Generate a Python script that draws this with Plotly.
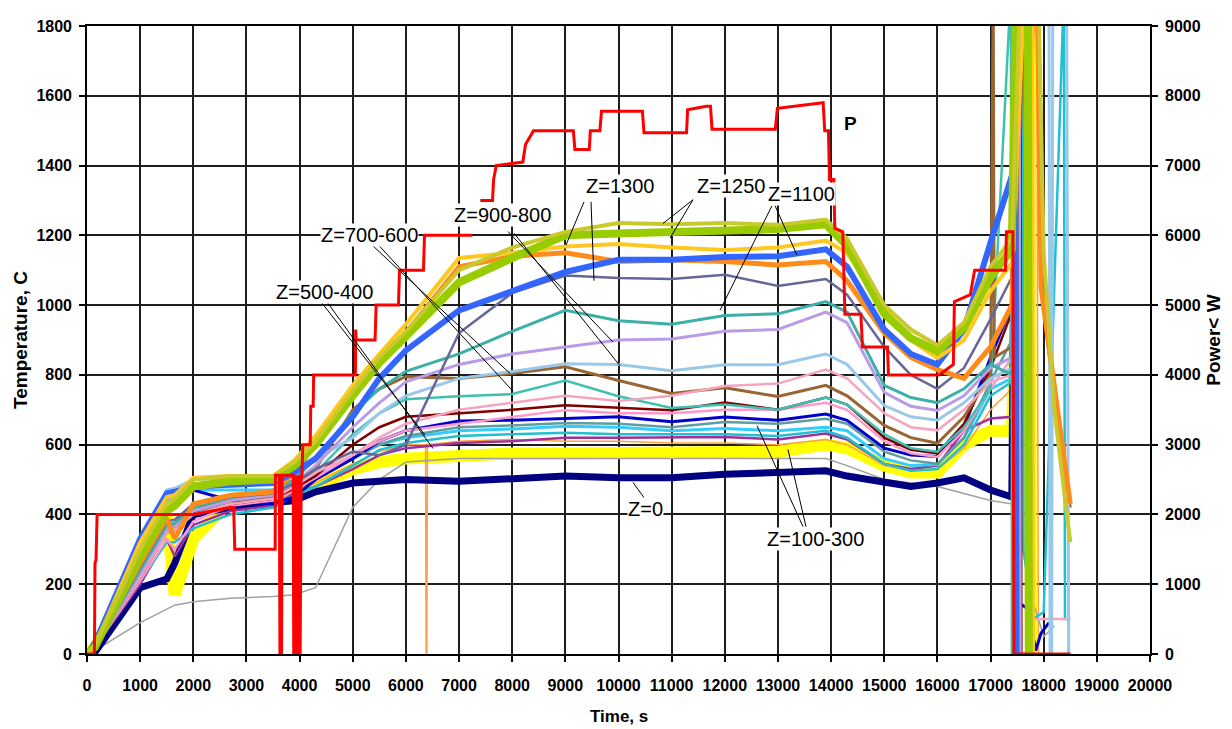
import plotly.graph_objects as go

# ---------------- DATA ----------------
GRID_T = [0, 150, 1000, 1500, 1650, 2000, 2700, 3500, 3900, 4300, 5000, 5500, 6000, 7000, 8000,
          9000, 10000, 11000, 12000, 13000, 13900, 14300, 15000, 15500, 16000, 16500, 17000, 17400]

olive_T = [0, 25, 300, 430, 445, 500, 510, 510, 550, 610, 755, 850, 925, 1100, 1165, 1210, 1235, 1232, 1235, 1230, 1245, 1190, 1000, 930, 885, 950, 1110, 1190]
green_T = [0, 20, 280, 410, 425, 480, 495, 500, 540, 600, 740, 835, 910, 1065, 1135, 1200, 1205, 1210, 1215, 1218, 1232, 1170, 975, 905, 868, 935, 1080, 1160]
gold_T = [0, 25, 320, 450, 455, 505, 510, 510, 555, 625, 770, 860, 945, 1135, 1150, 1168, 1175, 1165, 1158, 1165, 1185, 1150, 990, 900, 848, 900, 1040, 1120]
blue_T = [0, 30, 330, 460, 465, 480, 485, 490, 520, 560, 680, 790, 870, 985, 1040, 1095, 1130, 1130, 1138, 1140, 1160, 1110, 930, 860, 830, 930, 1180, 1370]
orange_T = [0, 20, 260, 390, 330, 430, 455, 465, 520, 600, 745, 845, 920, 1110, 1140, 1150, 1125, 1130, 1125, 1115, 1125, 1070, 920, 850, 815, 790, 880, 1000]
slate_T = [0, 20, 250, 380, 385, 430, 450, 460, 490, 530, 580, 570, 600, 920, 1035, 1085, 1078, 1075, 1087, 1055, 1075, 1030, 880, 800, 760, 820, 960, 1080]
teal_T = [0, 20, 240, 370, 375, 420, 450, 470, 500, 560, 690, 760, 810, 860, 925, 985, 955, 945, 970, 975, 1010, 980, 770, 735, 720, 760, 830, 800]
lavender_T = [0, 20, 230, 360, 365, 410, 440, 455, 490, 540, 650, 720, 780, 830, 860, 880, 900, 903, 925, 930, 980, 950, 750, 710, 698, 740, 820, 850]
lightblue_T = [0, 25, 310, 470, 475, 500, 505, 505, 530, 560, 620, 690, 740, 790, 810, 832, 830, 812, 829, 829, 860, 830, 712, 680, 670, 720, 790, 820]
lightpink_T = [0, 20, 220, 350, 355, 400, 430, 445, 480, 520, 570, 620, 660, 700, 720, 740, 725, 740, 768, 775, 815, 790, 690, 650, 641, 700, 780, 800]
brown_T = [0, 20, 230, 360, 375, 420, 440, 450, 480, 530, 700, 760, 795, 790, 804, 823, 784, 747, 763, 738, 770, 740, 655, 620, 604, 680, 800, 880]
aqua_T = [0, 20, 240, 370, 375, 420, 445, 455, 485, 520, 630, 690, 730, 739, 745, 784, 739, 705, 715, 700, 735, 715, 630, 590, 580, 650, 760, 800]
maroon_T = [0, 20, 220, 350, 355, 400, 430, 445, 475, 510, 600, 650, 680, 690, 700, 713, 705, 699, 721, 700, 735, 715, 620, 585, 575, 660, 820, 980]
pink_T = [0, 20, 210, 330, 300, 380, 425, 440, 470, 505, 570, 610, 640, 660, 680, 699, 690, 690, 700, 700, 720, 700, 610, 575, 565, 640, 760, 850]
navyblue_T = [0, 40, 330, 450, 455, 470, 440, 430, 450, 500, 560, 610, 640, 668, 670, 676, 680, 666, 679, 670, 688, 670, 590, 570, 566, 650, 850, 1000]
cadet_T = [0, 20, 220, 360, 365, 410, 430, 440, 470, 500, 560, 600, 625, 650, 655, 662, 660, 650, 665, 660, 674, 660, 580, 555, 545, 620, 780, 900]
cyan_T = [0, 25, 290, 440, 445, 470, 470, 470, 490, 510, 560, 600, 620, 640, 645, 653, 650, 640, 646, 640, 650, 640, 560, 540, 543, 620, 760, 790]
turq_T = [0, 20, 210, 320, 320, 360, 400, 420, 455, 480, 540, 585, 605, 625, 630, 634, 630, 630, 630, 625, 640, 620, 545, 525, 530, 600, 740, 780]
purple_T = [0, 20, 200, 330, 280, 370, 410, 425, 460, 480, 530, 570, 590, 605, 610, 620, 620, 620, 622, 615, 632, 615, 545, 530, 540, 640, 675, 680]
yellow_T = [0, 20, 250, 400, 170, 330, 440, 445, 460, 480, 530, 550, 560, 570, 575, 575, 575, 576, 576, 580, 600, 590, 540, 520, 520, 600, 640, 640]
navy_T = [0, 5, 190, 215, 260, 400, 420, 430, 440, 465, 490, 495, 500, 495, 500, 510, 505, 505, 515, 520, 525, 510, 495, 480, 490, 505, 470, 450]
gray_T = [0, 10, 90, 130, 140, 150, 160, 165, 170, 190, 420, 500, 550, 560, 560, 560, 560, 560, 560, 560, 560, 540, 500, 490, 480, 460, 440, 430]
tan_T = [0, 20, 230, 350, 340, 390, 420, 435, 465, 490, 545, 580, 600, 610, 615, 610, 610, 605, 605, 600, 615, 600, 540, 525, 530, 590, 700, 760]

# extra readings (t, T) outside the common grid: dropouts and the end of the run
olive_extra = [(17560, 1900), (17900, 1900), (18000, 1150), (18200, 700), (18500, 320)]
green_extra = [(17480, 1900), (17700, 1900), (17720, 0), (17800, 0)]
gold_extra = [(17640, 1900), (17780, 1900), (17800, 0), (17850, 0)]
blue_extra = [(17460, 1250), (17480, 0)]
orange_extra = [(17600, 1900), (17880, 1900), (17950, 1050), (18200, 760), (18500, 430)]
slate_extra = [(17500, 1900), (17520, 0), (17600, 0)]
teal_extra = [(17420, 1900), (17440, 0)]
lavender_extra = [(17460, 1900), (17540, 1900), (17560, 0)]
lightblue_extra = [(17450, 1900), (18100, 1900), (18120, 0), (18150, 0), (18170, 1900), (18430, 1900), (18470, 0), (18520, 0)]
lightpink_extra = [(17430, 1900), (17700, 1900), (17720, 100), (18000, 100), (18500, 100)]
brown_extra = [(17050, 1900), (17070, 850), (17650, 1900), (17900, 1900), (18000, 1000), (18200, 720), (18500, 420)]
aqua_extra = [(17380, 1900), (17400, 0)]
maroon_extra = [(17560, 1900), (17580, 0), (17620, 0)]
pink_extra = [(17440, 1900), (17500, 1900), (17520, 0)]
navyblue_extra = [(17480, 1900), (17500, 150), (17700, 130), (17850, 10), (17950, 60), (18100, 90)]
cadet_extra = [(17700, 1900), (17720, 0)]
cyan_extra = [(17520, 1900), (17540, 0)]
turq_extra = [(17600, 1900), (17620, 300), (17800, 100), (18000, 120), (18380, 1900), (18400, 100), (18500, 100)]
purple_extra = [(17440, 1900), (17460, 0), (17600, 0)]
yellow_extra = [(17740, 1900), (17760, 0)]
navy_extra = [(17480, 1900), (17500, 0)]
gray_extra = [(17450, 1000), (17600, 300), (17800, 150), (18000, 50), (18200, 80)]
tan_extra = [(6370, 600), (6380, 0), (6395, 0), (6405, 600), (17870, 1900), (17900, 0)]

# Power P, W (right axis)
power_points = [
    (0, 0), (140, 0), (150, 1300), (170, 1350), (190, 2000), (2000, 2000), (2700, 2100), (2760, 2100),
    (2780, 1500), (3540, 1500), (3545, 2560), (3620, 2560), (3630, 0), (3660, 0), (3670, 2560), (3880, 2560),
    (3890, 0), (3910, 2560), (3920, 0), (3940, 2560), (3950, 0), (3970, 2560), (3980, 0), (4000, 2560),
    (4010, 0), (4030, 2560), (4045, 2560), (4060, 3000), (4200, 3000), (4210, 3550), (4255, 3550),
    (4265, 4000), (5050, 4000), (5055, 4650), (5065, 4500), (5420, 4500), (5440, 5000), (5860, 5000),
    (5880, 5500), (6330, 5500), (6350, 6000), (7250, 6000), (7260, None), (7400, 6500), (7630, 6500),
    (7650, 6800), (7700, 7000), (8200, 7050), (8250, 7300), (8400, 7500), (9150, 7500), (9180, 7230),
    (9450, 7230), (9470, 7500), (9650, 7500), (9680, 7780), (10450, 7780), (10480, 7470), (11280, 7470),
    (11300, 7800), (11650, 7850), (11730, 7850), (11760, 7520), (12950, 7520), (12990, 7820), (13850, 7900),
    (13880, 7500), (13950, 7500), (13970, 6800), (14050, 6800), (14070, 6100), (14220, 6050), (14260, 4870),
    (14560, 4870), (14590, 4400), (15060, 4400), (15080, 4000), (16030, 4000), (16300, 4150), (16320, 5050),
    (16620, 5150), (16700, 5500), (17280, 5500), (17300, 6050), (17420, 6050), (17440, 0), (18500, 0),
]

X_TICKS = list(range(0, 20001, 1000))
Y_TICKS = list(range(0, 1801, 200))
Y2_TICKS = list(range(0, 9001, 1000))

# ---------------- STYLE ----------------
series = [
    ("yellow", yellow_T, yellow_extra, "#FFFF00", 12),
    ("tan", tan_T, tan_extra, "#FFA040", 1.5),
    ("gray", gray_T, gray_extra, "#A0A0A0", 1.5),
    ("navy Z=0", navy_T, navy_extra, "#000080", 7),
    ("purple", purple_T, purple_extra, "#A030A0", 2.5),
    ("turquoise", turq_T, turq_extra, "#20C0D0", 2.5),
    ("cyan", cyan_T, cyan_extra, "#33CCFF", 3),
    ("cadet", cadet_T, cadet_extra, "#5F9EA0", 2.5),
    ("navy blue", navyblue_T, navyblue_extra, "#0000CC", 3),
    ("pink", pink_T, pink_extra, "#FF99CC", 2.5),
    ("maroon", maroon_T, maroon_extra, "#800000", 2.5),
    ("aquamarine", aqua_T, aqua_extra, "#40C0B0", 2.5),
    ("brown", brown_T, brown_extra, "#996633", 3),
    ("light pink", lightpink_T, lightpink_extra, "#F4A6C0", 2.5),
    ("light blue", lightblue_T, lightblue_extra, "#99C8E8", 3),
    ("lavender", lavender_T, lavender_extra, "#B89CE6", 3),
    ("teal", teal_T, teal_extra, "#3CB0A8", 3),
    ("slate", slate_T, slate_extra, "#666699", 2.5),
    ("orange", orange_T, orange_extra, "#FF8C1A", 5),
    ("blue", blue_T, blue_extra, "#3366FF", 6),
    ("gold", gold_T, gold_extra, "#FFC820", 4),
    ("yellow-green", green_T, green_extra, "#99CC00", 8),
    ("olive", olive_T, olive_extra, "#C9C92E", 4),
]

SANS = "Liberation Sans, Arial, sans-serif"

fig = go.Figure()
for name, vals, extra, color, width in series:
    pts = sorted(list(zip(GRID_T, vals)) + list(extra), key=lambda p: p[0])
    fig.add_trace(go.Scatter(
        x=[p[0] for p in pts], y=[p[1] for p in pts], mode="lines", name=name,
        line=dict(color=color, width=width), showlegend=False, hoverinfo="skip"))

fig.add_trace(go.Scatter(
    x=[p[0] for p in power_points], y=[p[1] for p in power_points], mode="lines", name="P",
    line=dict(color="#FF0000", width=3), yaxis="y2", showlegend=False, connectgaps=False,
    hoverinfo="skip"))

# annotation labels (data coordinates) with their pointer lines
labels = [
    ("Z=700-600", 5306, 1200, [((5287, 1183), (7959, 804)), ((5419, 1183), (8015, 753))]),
    ("Z=500-400", 4459, 1039, [((4384, 1013), (6360, 628)), ((4497, 1013), (6510, 589))]),
    ("Z=900-800", 7808, 1257, [((7921, 1211), (9897, 894)), ((8034, 1206), (10028, 826))]),
    ("Z=1300", 10028, 1342, [((9351, 1296), (9012, 1172)), ((9483, 1296), (9539, 1070))]),
    ("Z=1250", 12117, 1342, [((11402, 1302), (10837, 1234)), ((11402, 1302), (10969, 1192))]),
    ("Z=1100", 13434, 1319, [((12888, 1285), (11910, 985)), ((12945, 1285), (13359, 1143))]),
    ("Z=0", 10499, 416, [((10499, 444), (10273, 492))]),
    ("Z=100-300", 13697, 331, [((13472, 365), (12606, 654)), ((13528, 365), (13189, 586))]),
]

shapes = []
annotations = []
for text, lx, ly, lines in labels:
    for (x0, y0), (x1, y1) in lines:
        shapes.append(dict(type="line", xref="x", yref="y", x0=x0, y0=y0, x1=x1, y1=y1,
                           line=dict(color="black", width=1)))
    annotations.append(dict(text=text, x=lx, y=ly, xref="x", yref="y", showarrow=False,
                            xanchor="center", yanchor="middle",
                            font=dict(family=SANS, size=20, color="black"),
                            bgcolor="white", borderpad=0))

annotations.append(dict(text="P", x=14356, y=1520, xref="x", yref="y", showarrow=False,
                        xanchor="center", yanchor="middle",
                        font=dict(family=SANS, size=19, color="black", weight="bold")))

# axis titles
annotations.append(dict(text="Temperature, C", x=-0.063, y=0.5, xref="paper", yref="paper",
                        xanchor="center", yanchor="middle", textangle=-90, showarrow=False,
                        font=dict(family=SANS, size=19, color="black", weight="bold")))
annotations.append(dict(text="Power< W", x=1.059, y=0.5, xref="paper", yref="paper",
                        xanchor="center", yanchor="middle", textangle=-90, showarrow=False,
                        font=dict(family=SANS, size=19, color="black", weight="bold")))
annotations.append(dict(text="Time, s", x=0.5, y=-0.099, xref="paper", yref="paper",
                        xanchor="center", yanchor="middle", showarrow=False,
                        font=dict(family=SANS, size=17, color="black", weight="bold")))

tickfont = dict(family=SANS, size=16, color="black", weight="bold")
GRID = "#1e1e1e"

# the page adds an 8 px body margin, so the figure is 8 px smaller and its margins 8 px less
fig.update_layout(
    width=1224, height=721,
    margin=dict(l=79, r=82, t=10, b=75),
    paper_bgcolor="white", plot_bgcolor="white",
    xaxis=dict(range=[0, 20000], tickvals=X_TICKS, ticktext=[str(v) for v in X_TICKS],
               tickangle=0,
               showgrid=True, gridcolor=GRID, gridwidth=1.6, zeroline=False,
               showline=True, linecolor="black", linewidth=1.6, mirror=True,
               ticks="outside", ticklen=6, tickcolor="black", tickwidth=1.5,
               tickfont=tickfont, ticklabelstandoff=10),
    yaxis=dict(range=[0, 1800], tickvals=Y_TICKS, ticktext=[str(v) for v in Y_TICKS],
               showgrid=True, gridcolor=GRID, gridwidth=1.6, zeroline=False,
               showline=True, linecolor="black", linewidth=1.6,
               ticks="outside", ticklen=6, tickcolor="black", tickwidth=1.5,
               tickfont=tickfont, ticklabelstandoff=4),
    yaxis2=dict(range=[0, 9000], tickvals=Y2_TICKS, ticktext=[str(v) for v in Y2_TICKS],
                overlaying="y", side="right", showgrid=False, zeroline=False,
                showline=True, linecolor="black", linewidth=1.6,
                ticks="outside", ticklen=6, tickcolor="black", tickwidth=1.5,
                tickfont=tickfont, ticklabelstandoff=4),
    shapes=shapes,
    annotations=annotations,
)

fig.write_html("out.html")
